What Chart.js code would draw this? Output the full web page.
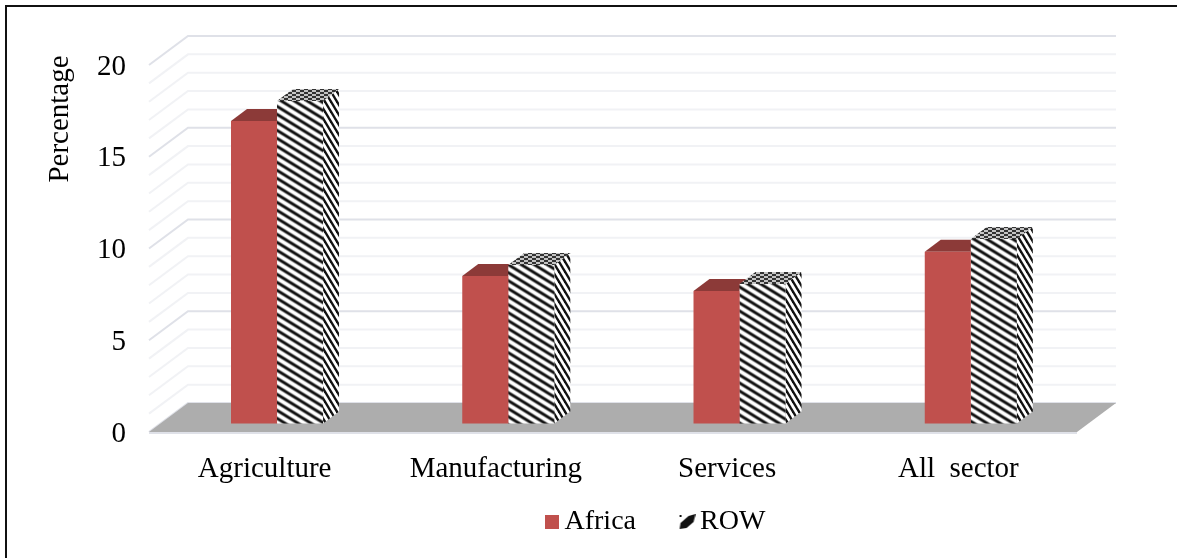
<!DOCTYPE html>
<html><head><meta charset="utf-8">
<style>html,body{margin:0;padding:0;background:#fff}canvas{display:block}</style>
<script src="https://cdn.jsdelivr.net/npm/chart.js@4"></script>
</head><body>
<canvas id="c" width="1177" height="558"></canvas>
<script>
const categories = ['Agriculture', 'Manufacturing', 'Services', 'All  sector'];
const africa = [16.48, 8.04, 7.22, 9.36];
const row = [17.57, 8.64, 7.6, 10.05];
const seriesNames = ['Africa', 'ROW'];
const axisTitle = 'Percentage';

const FONT = '"Liberation Serif"';
const RED = '#C0504D', RED_TOP = '#8C3A38';
const WALL = {dx: 39, dy: -29}, BAR = {dx: 16, dy: -12}, SHIFT = {x: 12.4, y: -8.5};

function tile(w, h, draw) {
  const c = document.createElement('canvas'); c.width = w; c.height = h;
  draw(c.getContext('2d'), w, h); return c;
}
function stripes(w, h, lw) {
  return tile(w, h, (g) => {
    g.fillStyle = '#fff'; g.fillRect(0, 0, w, h);
    g.strokeStyle = '#111'; g.lineWidth = lw;
    for (let i = -2; i <= 2; i++) {
      g.beginPath(); g.moveTo(-w, -h + i * h); g.lineTo(2 * w, 2 * h + i * h); g.stroke();
    }
  });
}
const ctx0 = document.getElementById('c').getContext('2d');
const frontP = ctx0.createPattern(stripes(13, 8, 2.9), 'repeat');
const sideP = ctx0.createPattern(stripes(6, 10, 2.4), 'repeat');
const topP = ctx0.createPattern(tile(8, 4, (g) => {
  g.fillStyle = '#c4c4c4'; g.fillRect(0, 0, 8, 4);
  g.fillStyle = '#333'; g.fillRect(0, 0, 4, 2); g.fillRect(4, 2, 4, 2);
}), 'repeat');

const legendMark = tile(20, 16, (g) => {
  g.translate(4, 0);
  g.fillStyle = '#111';
  g.fillRect(0, 1, 2, 2);
  g.beginPath(); g.moveTo(0, 15); g.lineTo(1, 9); g.lineTo(9, 2); g.lineTo(16, 0);
  g.lineTo(14, 8); g.lineTo(7, 14); g.closePath(); g.fill();
});
const legendSwatch = tile(18, 14, (g) => { g.fillStyle = RED; g.fillRect(4, 0, 14, 14); });

function poly(ctx, pts, fill) {
  ctx.beginPath(); pts.forEach((p, i) => i ? ctx.lineTo(p[0], p[1]) : ctx.moveTo(p[0], p[1]));
  ctx.closePath(); ctx.fillStyle = fill; ctx.fill();
}

const scene = {
  id: 'scene',
  beforeLayout(chart) {
    const L = chart.legend;
    if (L && !L._flat) { const f = L.fit; L.fit = function () { f.call(this); this.height = 0; }; L._flat = true; }
  },
  afterLayout(chart) {
    const L = chart.legend; if (!L) return;
    L.left = 500.5; L.right = 1100; L.top = 459; L.bottom = 558;
  },
  beforeDraw(chart) {
    const {ctx} = chart;
    ctx.save();
    ctx.fillStyle = '#fff'; ctx.fillRect(0, 0, 1177, 558);
    ctx.fillStyle = '#111'; ctx.fillRect(5, 5, 1172, 2); ctx.fillRect(5, 5, 2, 553);
    ctx.restore();
  },
  beforeDatasetsDraw(chart) {
    const {ctx, chartArea: a, scales: {y}} = chart;
    ctx.save();
    // walls' grid
    const bl = a.left + WALL.dx, br = a.right + 3 + WALL.dx;
    y.ticks.forEach((t) => {
      const py = y.getPixelForValue(t.value), major = t.value % 5 === 0;
      ctx.strokeStyle = major ? '#DFE1E8' : '#F1F2F5'; ctx.lineWidth = 2;
      ctx.beginPath(); ctx.moveTo(a.left, py); ctx.lineTo(bl, py + WALL.dy); ctx.lineTo(br, py + WALL.dy); ctx.stroke();
    });
    // floor
    poly(ctx, [[a.left, a.bottom], [a.right + 3, a.bottom], [br, a.bottom + WALL.dy], [bl, a.bottom + WALL.dy]], '#ADADAD');
    ctx.strokeStyle = '#DFE1E8'; ctx.lineWidth = 2;
    ctx.beginPath(); ctx.moveTo(a.left, a.bottom + 1); ctx.lineTo(a.right + 3, a.bottom + 1); ctx.stroke();
    // 3D bar sides and tops
    [0, 1].forEach((d) => {
      chart.getDatasetMeta(d).data.forEach((bar) => {
        const {x, y: top, base, width} = bar.getProps(['x', 'y', 'base', 'width'], true);
        const L = x - width / 2 + SHIFT.x, R = x + width / 2 + SHIFT.x, T = top + SHIFT.y, B = base + SHIFT.y;
        poly(ctx, [[R, T], [R + BAR.dx, T + BAR.dy], [R + BAR.dx, B + BAR.dy], [R, B]], d ? sideP : '#9A3F3C');
        poly(ctx, [[L, T], [R, T], [R + BAR.dx, T + BAR.dy], [L + BAR.dx, T + BAR.dy]], d ? topP : RED_TOP);
      });
    });
    ctx.restore();
    ctx.save();
    ctx.translate(SHIFT.x, SHIFT.y);
  },
  afterDatasetsDraw(chart) { chart.ctx.restore(); },
  afterDraw(chart) {
    const {ctx} = chart;
    ctx.save();
    ctx.translate(60, 119); ctx.rotate(-Math.PI / 2);
    ctx.font = '29px ' + FONT; ctx.fillStyle = '#000'; ctx.textAlign = 'center'; ctx.textBaseline = 'middle';
    ctx.fillText(axisTitle, 0, 0);
    ctx.restore();
  }
};

new Chart(document.getElementById('c'), {
  type: 'bar',
  data: {
    labels: categories,
    datasets: [
      {label: seriesNames[0], data: africa, backgroundColor: RED, clip: false},
      {label: seriesNames[1], data: row, backgroundColor: frontP, clip: false}
    ]
  },
  plugins: [scene],
  options: {
    responsive: false, animation: false,
    layout: {padding: {top: 65, right: 103, left: 0, bottom: 0}},
    categoryPercentage: 0.398, barPercentage: 1,
    scales: {
      x: {
        grid: {display: false}, border: {display: false},
        afterFit: (s) => { s.height = 126; },
        ticks: {color: '#000', font: {family: FONT, size: 29}, padding: 12, maxRotation: 0, autoSkip: false}
      },
      y: {
        min: 0, max: 20,
        grid: {display: false, drawTicks: false}, border: {display: false},
        afterFit: (s) => { s.width = 149; },
        ticks: {
          stepSize: 1, autoSkip: false, color: '#000', font: {family: FONT, size: 29}, padding: 23, labelOffset: 2,
          callback: (v) => (v % 5 === 0 ? String(v) : '')
        }
      }
    },
    plugins: {
      tooltip: {enabled: false},
      legend: {
        position: 'bottom', align: 'start',
        labels: {
          color: '#000', font: {family: FONT, size: 28}, padding: 49,
          usePointStyle: true, boxWidth: 1, boxHeight: 1,
          generateLabels: () => seriesNames.map((t, i) => ({
            text: t, pointStyle: i ? legendMark : legendSwatch, datasetIndex: i, lineWidth: 0, hidden: false
          }))
        }
      }
    }
  }
});
</script>
</body></html>
